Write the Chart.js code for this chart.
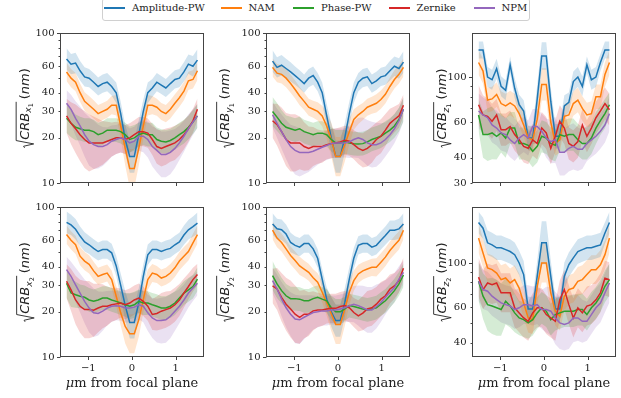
<!DOCTYPE html>
<html>
<head>
<meta charset="utf-8">
<script src="https://cdn.jsdelivr.net/npm/chart.js@4.4.0/dist/chart.umd.min.js"></script>
<style>
  body { margin:0; width:621px; height:398px; position:relative; overflow:hidden; background:#fff; font-family:"DejaVu Serif", serif; }
  canvas { position:absolute; }
  #legend { position:absolute; left:102px; top:-2px; width:426px; height:21px; border:1px solid #d0d0d0; border-radius:3px; background:rgba(255,255,255,0.8); }
  .ln { position:absolute; top:8px; width:21px; height:1.5px; }
  .tx { position:absolute; top:3px; font-size:10px; line-height:12px; color:#222; white-space:nowrap; }
</style>
</head>
<body>
<div id="legend"></div>
<canvas id="p1" width="209" height="175" style="left:0px;top:20px"></canvas>
<canvas id="p2" width="209" height="175" style="left:206px;top:20px"></canvas>
<canvas id="p3" width="209" height="175" style="left:412px;top:20px"></canvas>
<canvas id="p4" width="209" height="203" style="left:0px;top:195px"></canvas>
<canvas id="p5" width="209" height="203" style="left:206px;top:195px"></canvas>
<canvas id="p6" width="209" height="203" style="left:412px;top:195px"></canvas>
<script>
// defocus positions (um)
const xs = [-1.5,-1.397,-1.293,-1.190,-1.086,-0.983,-0.879,-0.776,-0.672,-0.569,-0.466,-0.362,-0.259,-0.155,-0.052,
            0.052,0.155,0.259,0.362,0.466,0.569,0.672,0.776,0.879,0.983,1.086,1.190,1.293,1.397,1.5];
const names = ['Amplitude-PW','NAM','Phase-PW','Zernike','NPM'];
const colors = ['#1f77b4','#ff7f0e','#2ca02c','#d62728','#9467bd'];
const fills = ['rgba(31,119,180,0.2)','rgba(255,127,14,0.2)','rgba(44,160,44,0.2)','rgba(214,39,40,0.2)','rgba(148,103,189,0.2)'];

// sqrt(CRB) x1
const x1Amp   = [67,62,63,56,51,50,47,44,46,47,44,40,29,19.5,15,15,21,30,40,43,47,45,43,46,49,50,55,62,60,66];
const x1Nam   = [55,50,47,40,35,33,31,29,30,31,33,33,24,17,12.5,12.5,17,24,33,33,32,30,29,31,34,37,41,48,49,56];
const x1Phase = [27,25,23.5,23,22.5,22.5,22,21,21.5,22.5,22.5,22.5,22,21,19.5,20,21,21.5,21,21,19.5,19,18.8,19.2,20,21,22,23.5,25.5,28];
const x1Zern  = [28,25,23,21,19.5,18.5,18.5,18.5,18.5,19,19.5,20,20,19.5,20,21,22,22,21.5,19.5,17.5,17,17.5,18,18.5,19.5,21,23,26,31];
const x1Npm   = [34,31,27,24,21,19,18,17.5,17.5,18,19,19.5,20,19.5,18.5,19,20.5,20.5,19.5,17.5,16.5,15.5,15.5,16,17,18.5,20.5,23,25.5,28];

// sqrt(CRB) y1
const y1Amp   = [65,59,61,58,55,52,49,46,50,52,47,40,28,20,15,15,20,29,40,47,50,51,46,48,51,52,56,60,58,64];
const y1Nam   = [59,54,53,50,46,42,38,35,32,31,30,28,24,19.5,15,15,18,22,26.5,28.5,30,32,33,34,36,39,44,49,53,59];
const y1Phase = [30,27.5,25,23.5,23,22.5,23,22,21.5,21,21.5,21.5,21,19.5,18.5,18.5,18.8,18.5,18.3,18.2,18.3,18.8,19.5,20,20.5,21.5,22.5,24,26.5,31];
const y1Zern  = [26,24.5,22,19.5,18.5,18.5,18.5,17.5,17,17.5,17.5,17.5,18,18.3,18.5,18.8,19.3,19,18,17,16.5,17,18,19.5,20.5,22.5,25,26.5,28,33];
const y1Npm   = [28.5,25,22,19.5,17.5,16.5,16,16,16,16.3,16.8,17.3,17.8,18.3,18.5,18.5,18.5,18.8,19.5,20,19.5,18.5,18,18,18.5,19.5,21,23,26,31];

// sqrt(CRB) z1
const z1Amp   = [136,136,100,97,110,90,86,115,88,73,68,50,50,78,127,127,76,51,51,72,75,95,100,90,115,97,100,118,136,136];
const z1Nam   = [118,107,77,78,82,74,72,74.5,72,66,58,50,49,62,92,92,60,47,49,64,65,74,77,70,65,66,80,80,103,118];
const z1Phase = [65,52,52,53,51,53,50,56,56,47,47,46,43,45.5,51,50,47,46,52,51,52,52,49,47,47,50,56,61,66,73];
const z1Zern  = [73,65,64,60.5,65,55,55,57,52,49,45.5,44.5,49,47,56,53,44.5,51,60.5,56,47,45.5,48,58,51,56,63,68,74,69];
const z1Npm   = [68,65,63,58,56,53,52,49,47,50,52,50,57,57,54,50,48,49,42.5,42.5,44.5,45.5,44,44,47,49,51,54,58,66];

// sqrt(CRB) x2
const x2Amp   = [79,76,71,64,58.5,56,53,50.5,52,52,49.5,40.5,30,22,17,17,23,34.5,48,52,52,50.5,52,53,56,58.5,65,70.5,74,78];
const x2Nam   = [65.5,60,56,47,43.6,41.5,37.5,34.5,35.5,36.3,32.8,25.4,19.7,16,14.3,14.3,17.7,24.1,32.8,36.3,35.5,33.6,34.5,36.3,39.3,43.6,47,50.5,57.6,65.5];
const x2Phase = [31,26.7,26,25.4,25,24,23.5,24,24.7,24.7,24,23.5,22.9,22.3,21.8,22.3,23.5,22.9,22.9,22.3,21.8,21.2,21.2,21.8,22.9,24.7,26.7,28,29.5,33];
const x2Zern  = [32,28,24,21.8,20.7,20.7,20.5,21.2,21.8,21.8,22.3,22.6,22.9,22.3,22.9,24,24.7,23.5,21.8,19.2,19.5,20.2,20.7,21.2,22.3,24,26.7,29.5,32.8,35.5];
const x2Npm   = [38.2,34.5,30.3,26.7,23.5,21.2,19.7,19.5,20.2,21.2,21.8,22,21.8,21.2,21.2,21.5,22.3,21.8,19.7,18.2,17.5,17.5,17.7,18.7,20.2,21.8,24,26.7,28.8,31];

// sqrt(CRB) y2
const y2Amp   = [77,71.5,70.5,66,58,55.5,54,57,57,52.6,45.5,33,24.3,20,17.5,17.5,23,33,45.5,55.5,57,57,54,55.5,60,64.5,70,70,71.5,77];
const y2Nam   = [70,62,58,52.6,47.5,44,40.5,38.6,36.7,33.8,31.5,27,23,19.4,16.5,16.5,20.9,27,32.3,35.8,37.5,38.6,39.6,39.6,42.8,46.3,51.3,55.5,60,70];
const y2Phase = [34.9,30.7,27.7,25.6,24.5,24.5,24.3,23.7,23.7,24.5,25,24.3,23.7,21.3,20,20,20.9,22,21.7,21.3,20.9,20.6,20.9,21.3,22.5,23.7,25.6,27.7,30.7,35.2];
const y2Zern  = [29.8,28.4,25,22.5,20.9,19.3,18.4,19.3,19.3,20.3,20.6,20.6,20.9,21.1,21.1,21.7,22,21.3,19.8,18.8,19.6,20.9,21.3,22.5,24.3,25.6,28.4,29.8,32.3,39];
const y2Npm   = [32.3,28.4,24.3,21.3,19.3,17.9,17.7,18.4,19.1,19.8,20,20.3,20.3,20.6,20.6,20.9,21.3,22,22.5,22,21.3,20.6,20.6,21.7,23.1,25,27,29,33,36.7];

// sqrt(CRB) z2
const z2Amp   = [159,149,126,123,119,119,116.5,114,110,100,87.5,59,59,86,126,126,86,59,59,86,98,106,114,116.5,119,119,121,123,141,159];
const z2Nam   = [133,112,94.4,92.6,89,82.6,84.2,79.5,82.6,75,63.2,53.2,52.2,76.5,100,100,71,57.5,54.3,68.3,73.7,75,81,82.6,87.5,92.6,92.6,98,110,133];
const z2Phase = [81,68.3,62,61,59.8,58.6,64.4,61,56.4,53.2,52.2,50.3,52.2,56.4,59.8,57.5,52.2,55.3,56.4,57.5,57.5,57.5,58.6,58.6,55.3,59.8,63.2,68.3,76.5,82.6];
const z2Zern  = [85,73.7,79.5,78,79.5,71,71,71,59.8,56.4,53.2,51.2,56.4,59.8,59.8,55.3,53.2,51.2,65.5,73.7,62,53.2,59.8,56.4,61,62,65.5,71,84,82.6];
const z2Npm   = [81,73.7,72.3,68.3,65.7,63.2,62,61,58.6,59.8,62,62,61,62,58.6,58.6,57.5,53.2,50.3,49.4,50.3,53.2,53.2,51.2,51.2,55.3,59.8,63.2,71,79.5];

// band half-widths (multiplicative), x / y panels
const bxyAmp   = [1.18,1.17,1.17,1.16,1.16,1.15,1.15,1.15,1.15,1.15,1.15,1.17,1.2,1.25,1.28,1.28,1.25,1.2,1.17,1.15,1.15,1.15,1.15,1.15,1.15,1.15,1.16,1.16,1.17,1.18];
const bxyNam   = [1.15,1.15,1.15,1.15,1.15,1.15,1.15,1.14,1.14,1.14,1.15,1.17,1.22,1.3,1.35,1.35,1.3,1.22,1.17,1.15,1.14,1.14,1.14,1.15,1.15,1.15,1.15,1.15,1.15,1.15];
const bxyPhase = [1.25,1.24,1.22,1.2,1.2,1.2,1.2,1.2,1.2,1.2,1.2,1.2,1.2,1.2,1.22,1.22,1.2,1.2,1.2,1.2,1.2,1.2,1.2,1.2,1.2,1.2,1.2,1.2,1.2,1.2];
const bxyZern  = [1.3,1.38,1.45,1.5,1.55,1.55,1.5,1.45,1.4,1.35,1.3,1.28,1.25,1.25,1.25,1.25,1.25,1.25,1.25,1.27,1.3,1.32,1.32,1.3,1.3,1.28,1.25,1.22,1.2,1.18];
const bxyNpm   = [1.22,1.25,1.3,1.35,1.4,1.45,1.45,1.4,1.35,1.3,1.27,1.25,1.25,1.25,1.25,1.25,1.25,1.28,1.32,1.36,1.4,1.42,1.42,1.4,1.35,1.3,1.27,1.25,1.22,1.2];
// bands, z1
const bz1Amp   = [1.1,1.1,1.12,1.12,1.12,1.12,1.12,1.1,1.12,1.12,1.13,1.15,1.15,1.17,1.17,1.17,1.17,1.15,1.15,1.13,1.12,1.12,1.12,1.12,1.1,1.12,1.12,1.1,1.1,1.1];
const bz1Nam   = [1.15,1.15,1.15,1.15,1.15,1.15,1.15,1.15,1.15,1.15,1.15,1.15,1.15,1.2,1.2,1.2,1.2,1.15,1.15,1.15,1.15,1.15,1.15,1.15,1.15,1.15,1.15,1.15,1.15,1.15];
const bz1Phase = [1.2,1.3,1.35,1.35,1.3,1.25,1.25,1.2,1.2,1.2,1.2,1.2,1.2,1.2,1.2,1.2,1.2,1.2,1.2,1.2,1.2,1.2,1.2,1.2,1.2,1.2,1.2,1.18,1.18,1.15];
const bz1Zern  = [1.25,1.25,1.22,1.22,1.2,1.2,1.2,1.2,1.2,1.2,1.2,1.2,1.2,1.2,1.2,1.2,1.2,1.2,1.2,1.2,1.2,1.2,1.2,1.2,1.2,1.2,1.2,1.2,1.2,1.2];
const bz1Npm   = [1.22,1.22,1.22,1.22,1.22,1.22,1.22,1.22,1.22,1.22,1.22,1.22,1.22,1.22,1.22,1.25,1.28,1.3,1.3,1.3,1.3,1.3,1.28,1.25,1.22,1.22,1.22,1.22,1.22,1.22];
// bands, z2
const bz2Amp   = [1.13,1.13,1.15,1.15,1.15,1.15,1.15,1.15,1.15,1.15,1.17,1.15,1.15,1.2,1.28,1.28,1.2,1.15,1.15,1.17,1.15,1.15,1.15,1.15,1.15,1.15,1.15,1.15,1.13,1.13];
const bz2Nam   = [1.18,1.18,1.18,1.18,1.18,1.18,1.18,1.18,1.18,1.18,1.18,1.18,1.18,1.22,1.25,1.25,1.22,1.18,1.18,1.18,1.18,1.18,1.18,1.18,1.18,1.18,1.18,1.18,1.18,1.18];
const bz2Phase = [1.25,1.3,1.35,1.38,1.38,1.35,1.3,1.28,1.25,1.22,1.22,1.2,1.2,1.2,1.2,1.2,1.2,1.2,1.2,1.2,1.2,1.2,1.2,1.2,1.2,1.2,1.2,1.2,1.2,1.2];
const bz2Zern  = [1.25,1.25,1.25,1.25,1.25,1.25,1.25,1.25,1.25,1.25,1.25,1.25,1.25,1.25,1.25,1.25,1.25,1.25,1.25,1.25,1.25,1.25,1.25,1.25,1.25,1.25,1.25,1.25,1.22,1.22];
const bz2Npm   = [1.25,1.25,1.25,1.25,1.25,1.25,1.25,1.25,1.25,1.25,1.25,1.25,1.25,1.25,1.25,1.3,1.32,1.35,1.35,1.35,1.35,1.32,1.3,1.28,1.25,1.25,1.25,1.25,1.25,1.25];

const ticksXY = [10,20,30,40,50,60,70,80,90,100];
const labelsXY = [10,20,30,40,60,100];
const ticksZ1 = [30,40,50,60,70,80,90,100];
const labelsZ1 = [30,40,60,100];
const ticksZ2 = [40,50,60,70,80,90,100];
const labelsZ2 = [40,60,100];
const xTicks = [-1,0,1];

const bXY = [bxyAmp,bxyNam,bxyPhase,bxyZern,bxyNpm];
const panels = [
  {id:'p1', left:0,   top:20,  bottom:false, comp:'x', idx:'1', means:[x1Amp,x1Nam,x1Phase,x1Zern,x1Npm], bands:bXY, ymin:10, ymax:100, yt:ticksXY, yl:labelsXY, tx:28.5},
  {id:'p2', left:206, top:20,  bottom:false, comp:'y', idx:'1', means:[y1Amp,y1Nam,y1Phase,y1Zern,y1Npm], bands:bXY, ymin:10, ymax:100, yt:ticksXY, yl:labelsXY, tx:229},
  {id:'p3', left:412, top:20,  bottom:false, comp:'z', idx:'1', means:[z1Amp,z1Nam,z1Phase,z1Zern,z1Npm], bands:[bz1Amp,bz1Nam,bz1Phase,bz1Zern,bz1Npm], ymin:30, ymax:165, yt:ticksZ1, yl:labelsZ1, tx:446},
  {id:'p4', left:0,   top:195, bottom:true,  comp:'x', idx:'2', means:[x2Amp,x2Nam,x2Phase,x2Zern,x2Npm], bands:bXY, ymin:10, ymax:100, yt:ticksXY, yl:labelsXY, tx:29},
  {id:'p5', left:206, top:195, bottom:true,  comp:'y', idx:'2', means:[y2Amp,y2Nam,y2Phase,y2Zern,y2Npm], bands:bXY, ymin:10, ymax:100, yt:ticksXY, yl:labelsXY, tx:229},
  {id:'p6', left:412, top:195, bottom:true,  comp:'z', idx:'2', means:[z2Amp,z2Nam,z2Phase,z2Zern,z2Npm], bands:[bz2Amp,bz2Nam,bz2Phase,bz2Zern,bz2Npm], ymin:34, ymax:190, yt:ticksZ2, yl:labelsZ2, tx:446}
];

// legend
const leg = document.getElementById('legend');
const legLines = [104, 220.5, 293, 388.5, 473.5];
names.forEach((n, i) => {
  const l = document.createElement('span');
  l.className = 'ln'; l.style.left = (legLines[i] - 103) + 'px'; l.style.background = colors[i];
  const t = document.createElement('span');
  t.className = 'tx'; t.style.left = (legLines[i] - 103 + 28) + 'px'; t.textContent = n;
  leg.appendChild(l); leg.appendChild(t);
});

function drawYTitle(ctx, bx, cy, comp, idx) {
  const s = 13;
  const fIt = 'italic ' + s + 'px "DejaVu Sans"', fUp = s + 'px "DejaVu Sans"';
  const fSub = 'italic ' + (s * 0.7) + 'px "DejaVu Sans"', fSub2 = (s * 0.49) + 'px "DejaVu Sans"';
  ctx.font = fIt; const wCRB = ctx.measureText('CRB').width, wNm = ctx.measureText('nm').width;
  ctx.font = fSub; const wSub = ctx.measureText(comp).width;
  ctx.font = fSub2; const wSub2 = ctx.measureText(idx).width;
  ctx.font = fUp; const wP = ctx.measureText('(').width, wP2 = ctx.measureText(')').width;
  const rad = 0.62 * s, gap = 0.2 * s;
  const inner = wCRB + wSub + wSub2 + 1.5;
  const total = rad + inner + gap + wP + wNm + wP2;
  ctx.save();
  ctx.translate(bx, cy);
  ctx.rotate(-Math.PI / 2);
  let x = -total / 2;
  ctx.strokeStyle = '#222'; ctx.fillStyle = '#222'; ctx.lineWidth = 0.9;
  ctx.beginPath();
  ctx.moveTo(x, -0.3 * s);
  ctx.lineTo(x + 0.12 * s, -0.38 * s);
  ctx.lineTo(x + 0.3 * s, 0.4 * s);
  ctx.lineTo(x + 0.56 * s, -0.95 * s);
  ctx.lineTo(x + rad + inner, -0.95 * s);
  ctx.stroke();
  x += rad;
  ctx.textAlign = 'left'; ctx.textBaseline = 'alphabetic';
  ctx.font = fIt; ctx.fillText('CRB', x, 0); x += wCRB;
  ctx.font = fSub; ctx.fillText(comp, x, 0.22 * s); x += wSub;
  ctx.font = fSub2; ctx.fillText(idx, x, 0.36 * s); x += wSub2 + 1.5 + gap;
  ctx.font = fUp; ctx.fillText('(', x, 0); x += wP;
  ctx.font = fIt; ctx.fillText('nm', x, 0); x += wNm;
  ctx.font = fUp; ctx.fillText(')', x, 0);
  ctx.restore();
}

const deco = {
  id: 'deco',
  afterDatasetsDraw(chart, args, o) {
    const ctx = chart.ctx, a = chart.chartArea;
    const sx = chart.scales.x, sy = chart.scales.y;
    ctx.save();
    ctx.strokeStyle = '#444';
    ctx.lineWidth = 1;
    const L = Math.round(a.left) + 0.5, R = Math.round(a.right) - 0.5;
    const T = Math.round(a.top) + 0.5, B = Math.round(a.bottom) - 0.5;
    ctx.strokeRect(L, T, R - L, B - T);
    ctx.beginPath();
    xTicks.forEach(v => {
      const px = Math.round(sx.getPixelForValue(v)) + 0.5;
      ctx.moveTo(px, B); ctx.lineTo(px, B + 3.5);
    });
    o.yt.forEach(v => {
      const py = Math.round(sy.getPixelForValue(v)) + 0.5;
      const len = (v === 10 || v === 100) ? 3.5 : 2;
      ctx.moveTo(L, py); ctx.lineTo(L - len, py);
    });
    ctx.stroke();
    drawYTitle(ctx, o.tx, (a.top + a.bottom) / 2, o.comp, o.idx);
    if (o.bottom) {
      ctx.fillStyle = '#222';
      ctx.textBaseline = 'alphabetic'; ctx.textAlign = 'left';
      ctx.font = 'italic 13px "DejaVu Serif"';
      const wMu = ctx.measureText('\u03bc').width;
      ctx.font = '13px "DejaVu Serif"';
      const wRest = ctx.measureText('m from focal plane').width;
      let x0 = (a.left + a.right) / 2 - (wMu + wRest) / 2;
      ctx.font = 'italic 13px "DejaVu Serif"';
      ctx.fillText('\u03bc', x0, 191.5);
      ctx.font = '13px "DejaVu Serif"';
      ctx.fillText('m from focal plane', x0 + wMu, 191.5);
    }
    ctx.restore();
  }
};

panels.forEach(p => {
  const datasets = [];
  p.means.forEach((m, i) => {
    const s = p.bands[i];
    datasets.push({ data: xs.map((x, k) => ({x: x, y: m[k] * s[k]})), borderWidth: 0, pointRadius: 0,
      backgroundColor: fills[i], fill: '+1', order: 10 });
    datasets.push({ data: xs.map((x, k) => ({x: x, y: m[k] / s[k]})), borderWidth: 0, pointRadius: 0,
      backgroundColor: fills[i], fill: false, order: 10 });
  });
  p.means.forEach((m, i) => {
    datasets.push({ label: names[i], data: xs.map((x, k) => ({x: x, y: m[k]})), borderColor: colors[i],
      borderWidth: 1.5, pointRadius: 0, fill: false, tension: 0, order: 5 - i });
  });
  new Chart(document.getElementById(p.id), {
    type: 'line',
    data: { datasets: datasets },
    plugins: [deco],
    options: {
      responsive: false,
      animation: false,
      devicePixelRatio: 1,
      layout: { padding: { left: 0, right: 5, top: p.bottom ? 12 : 13, bottom: 0 } },
      plugins: {
        legend: { display: false },
        tooltip: { enabled: false },
        deco: { yt: p.yt, tx: p.tx - p.left, comp: p.comp, idx: p.idx, bottom: p.bottom }
      },
      scales: {
        x: {
          type: 'linear', min: -1.65, max: 1.65,
          afterBuildTicks: s => { s.ticks = xTicks.map(v => ({value: v})); },
          afterFit: s => { s.height = p.bottom ? 41 : 12; },
          ticks: { display: p.bottom, autoSkip: false, maxRotation: 0, padding: 2, color: '#222',
            font: { family: '"DejaVu Serif"', size: 10 },
            callback: v => v < 0 ? '\u2212' + Math.abs(v) : String(v) },
          grid: { display: true, drawOnChartArea: false, tickLength: 3.5, tickColor: 'rgba(0,0,0,0)' },
          border: { display: false }
        },
        y: {
          type: 'logarithmic', min: p.ymin, max: p.ymax,
          afterBuildTicks: s => { s.ticks = p.yt.map(v => ({value: v})); },
          afterFit: s => { s.width = 60; },
          ticks: { autoSkip: false, padding: 2, color: '#222',
            font: { family: '"DejaVu Serif"', size: 10 },
            callback: v => p.yl.includes(v) ? String(v) : '' },
          grid: { display: true, drawOnChartArea: false, tickLength: 3.5, tickColor: 'rgba(0,0,0,0)' },
          border: { display: false }
        }
      }
    }
  });
});
</script>
</body>
</html>
